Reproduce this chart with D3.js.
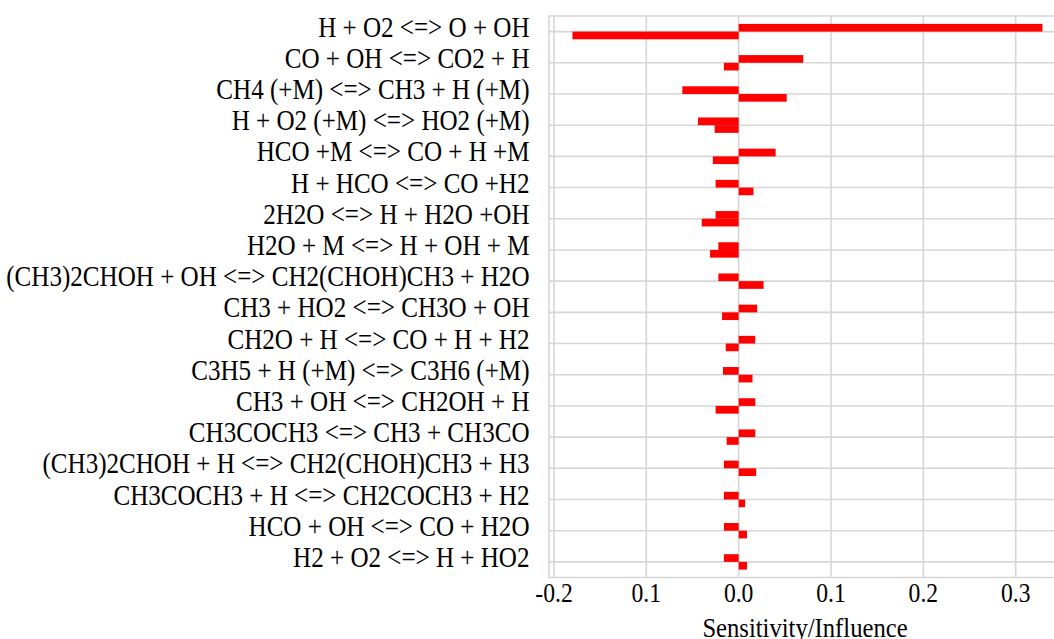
<!DOCTYPE html>
<html>
<head>
<meta charset="utf-8">
<script src="https://cdn.jsdelivr.net/npm/d3@7"></script>
<style>
  html, body { margin: 0; padding: 0; background: #fff; }
  svg { display: block; }
</style>
</head>
<body>
<script>
// reactions, top to bottom
var reactions = [
  "H + O2 <=> O + OH",
  "CO + OH <=> CO2 + H",
  "CH4 (+M) <=> CH3 + H (+M)",
  "H + O2 (+M) <=> HO2 (+M)",
  "HCO +M <=> CO + H +M",
  "H + HCO <=> CO +H2",
  "2H2O <=> H + H2O +OH",
  "H2O + M <=> H + OH + M",
  "(CH3)2CHOH + OH <=> CH2(CHOH)CH3 + H2O",
  "CH3 + HO2 <=> CH3O + OH",
  "CH2O + H <=> CO + H + H2",
  "C3H5 + H (+M) <=> C3H6 (+M)",
  "CH3 + OH <=> CH2OH + H",
  "CH3COCH3 <=> CH3 + CH3CO",
  "(CH3)2CHOH + H <=> CH2(CHOH)CH3 + H3",
  "CH3COCH3 + H <=> CH2COCH3 + H2",
  "HCO + OH <=> CO + H2O",
  "H2 + O2 <=> H + HO2"
];

// upper bar of each pair
var seriesA = [0.329, 0.070, -0.061, -0.044, 0.040, -0.025, -0.025, -0.022, -0.022,
               0.020, 0.018, -0.017, 0.018, 0.018, -0.016, -0.016, -0.016, -0.016];
// lower bar of each pair
var seriesB = [-0.180, -0.016, 0.052, -0.026, -0.028, 0.016, -0.040, -0.031, 0.027,
               -0.018, -0.014, 0.015, -0.025, -0.013, 0.019, 0.007, 0.009, 0.009];

var tickValues = [-0.2, -0.1, 0.0, 0.1, 0.2, 0.3];
var tickLabels = ["-0.2", "0.1", "0.0", "0.1", "0.2", "0.3"];

var width = 1054, height = 639;
var plotLeft = 549, plotRight = 1060, plotTop = 16, plotBottom = 577.5;
var textScale = 0.88;
var serif = "'Liberation Serif'";

var svg = d3.select("body").append("svg")
  .attr("width", width)
  .attr("height", height);

var x = d3.scaleLinear()
  .domain([-0.2054, 0.3480])
  .range([plotLeft, plotRight]);

var y = d3.scaleBand()
  .domain(reactions)
  .range([plotTop, plotBottom])
  .padding(0);

var sub = d3.scaleBand()
  .domain(["a", "b"])
  .range([-7.7, 7.7]);

var gridColor = "#d6d6d6";

// vertical gridlines
svg.append("g")
  .selectAll("line")
  .data(tickValues)
  .enter()
  .append("line")
  .attr("x1", function(d) { return x(d); })
  .attr("x2", function(d) { return x(d); })
  .attr("y1", plotTop)
  .attr("y2", plotBottom)
  .attr("stroke", gridColor)
  .attr("stroke-width", 1.6);

// horizontal gridlines at category centres
svg.append("g")
  .selectAll("line")
  .data(reactions)
  .enter()
  .append("line")
  .attr("x1", plotLeft)
  .attr("x2", width)
  .attr("y1", function(d) { return y(d) + y.bandwidth() / 2; })
  .attr("y2", function(d) { return y(d) + y.bandwidth() / 2; })
  .attr("stroke", gridColor)
  .attr("stroke-width", 1.6);

// frame: top, left, bottom
svg.append("path")
  .attr("d", "M" + width + "," + plotTop + "H" + plotLeft + "V" + plotBottom + "H" + width)
  .attr("fill", "none")
  .attr("stroke", gridColor)
  .attr("stroke-width", 1.6);

// bars
function drawSeries(values, key) {
  svg.append("g")
    .selectAll("rect")
    .data(values)
    .enter()
    .append("rect")
    .attr("x", function(d) { return x(Math.min(0, d)); })
    .attr("width", function(d) { return Math.abs(x(d) - x(0)); })
    .attr("y", function(d, i) { return y(reactions[i]) + y.bandwidth() / 2 + sub(key); })
    .attr("height", sub.bandwidth())
    .attr("fill", "#ff0000");
}
drawSeries(seriesA, "a");
drawSeries(seriesB, "b");

// category labels
svg.append("g")
  .selectAll("text")
  .data(reactions)
  .enter()
  .append("text")
  .attr("transform", function(d) {
    return "translate(529.5," + (y(d) + y.bandwidth() / 2 + 5) + ") scale(" + textScale + ",1)";
  })
  .attr("text-anchor", "end")
  .attr("font-family", serif)
  .attr("font-size", 28.5)
  .attr("fill", "#000")
  .text(function(d) { return d; });

// x tick labels
svg.append("g")
  .selectAll("text")
  .data(tickValues)
  .enter()
  .append("text")
  .attr("transform", function(d) {
    return "translate(" + x(d) + ",602) scale(0.86,1)";
  })
  .attr("text-anchor", "middle")
  .attr("font-family", serif)
  .attr("font-size", 27.5)
  .attr("fill", "#000")
  .text(function(d, i) { return tickLabels[i]; });

// axis title
svg.append("text")
  .attr("transform", "translate(805,637) scale(" + textScale + ",1)")
  .attr("text-anchor", "middle")
  .attr("font-family", serif)
  .attr("font-size", 28)
  .attr("fill", "#000")
  .text("Sensitivity/Influence");
</script>
</body>
</html>
